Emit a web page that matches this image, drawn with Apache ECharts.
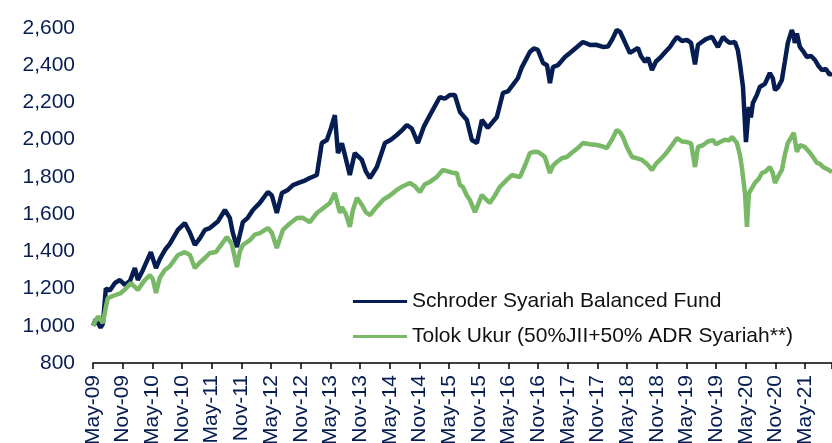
<!DOCTYPE html>
<html>
<head>
<meta charset="utf-8">
<script src="https://cdn.jsdelivr.net/npm/echarts@6/dist/echarts.min.js"></script>
<style>html,body{margin:0;padding:0;background:#fff}#c{width:832px;height:443px}</style>
</head>
<body>
<div id="c"></div>
<script>
var seriesNames = ['Schroder Syariah Balanced Fund', 'Tolok Ukur (50%JII+50% ADR Syariah**)'];
var tickLabels = ['May-09','Nov-09','May-10','Nov-10','May-11','Nov-11','May-12','Nov-12','May-13','Nov-13','May-14','Nov-14','May-15','Nov-15','May-16','Nov-16','May-17','Nov-17','May-18','Nov-18','May-19','Nov-19','May-20','Nov-20','May-21'];
var yTicks = [800, 1000, 1200, 1400, 1600, 1800, 2000, 2200, 2400, 2600];

var fundDates = ['2009-05-01','2009-05-19','2009-06-01','2009-06-17','2009-07-01','2009-07-19','2009-08-13','2009-09-14','2009-10-14','2009-11-14','2009-12-15','2010-01-15','2010-02-03','2010-03-04','2010-04-22','2010-05-23','2010-06-17','2010-07-17','2010-08-17','2010-10-06','2010-11-18','2010-12-19','2011-01-19','2011-02-19','2011-03-20','2011-04-20','2011-06-08','2011-07-21','2011-08-21','2011-09-09','2011-10-04','2011-11-10','2011-12-10','2012-01-11','2012-02-23','2012-04-12','2012-05-06','2012-06-06','2012-07-07','2012-08-13','2012-09-14','2012-10-26','2012-11-26','2012-12-26','2013-02-09','2013-03-09','2013-04-10','2013-05-04','2013-05-28','2013-06-17','2013-07-11','2013-07-29','2013-08-29','2013-09-29','2013-11-12','2013-12-06','2014-01-01','2014-02-13','2014-04-02','2014-05-08','2014-06-14','2014-07-15','2014-08-15','2014-09-15','2014-10-22','2014-11-28','2015-01-05','2015-02-05','2015-03-05','2015-04-05','2015-05-06','2015-06-06','2015-07-07','2015-08-19','2015-09-19','2015-10-20','2015-11-20','2015-12-26','2016-01-21','2016-02-21','2016-03-28','2016-04-28','2016-05-28','2016-06-28','2016-07-23','2016-08-17','2016-09-11','2016-10-05','2016-10-30','2016-12-01','2016-12-25','2017-01-13','2017-02-01','2017-03-01','2017-04-14','2017-05-14','2017-06-27','2017-08-03','2017-09-16','2017-10-22','2017-12-04','2018-01-05','2018-01-29','2018-02-28','2018-03-18','2018-04-06','2018-04-30','2018-05-18','2018-06-13','2018-07-07','2018-07-25','2018-08-20','2018-09-08','2018-10-02','2018-10-26','2018-11-20','2018-12-21','2019-01-21','2019-02-15','2019-03-04','2019-04-04','2019-05-04','2019-05-29','2019-06-23','2019-07-11','2019-07-23','2019-08-29','2019-10-06','2019-11-12','2019-12-13','2020-01-07','2020-01-25','2020-02-25','2020-03-13','2020-03-25','2020-04-14','2020-05-02','2020-05-20','2020-06-02','2020-06-14','2020-07-08','2020-07-26','2020-08-27','2020-09-27','2020-10-15','2020-10-28','2020-11-16','2020-12-10','2020-12-28','2021-01-16','2021-02-10','2021-02-22','2021-02-28','2021-03-11','2021-03-29','2021-04-23','2021-05-12','2021-06-06','2021-07-01','2021-07-19','2021-08-13','2021-09-07','2021-10-01','2021-10-14'];
var fundValues = [1000,1035,1040,990,1010,1200,1190,1230,1246,1220,1240,1310,1246,1300,1396,1310,1360,1407,1440,1515,1552,1500,1434,1470,1515,1525,1560,1622,1580,1500,1423,1557,1580,1622,1660,1719,1700,1606,1713,1730,1756,1770,1780,1794,1810,1982,1998,2060,2132,1928,1980,1918,1810,1928,1891,1830,1794,1853,1982,2000,2025,2050,2079,2060,1982,2070,2132,2180,2229,2220,2240,2240,2149,2106,1998,1982,2106,2063,2090,2122,2251,2260,2294,2330,2390,2430,2471,2490,2482,2412,2400,2304,2390,2400,2444,2466,2498,2525,2509,2510,2498,2500,2536,2589,2580,2546,2500,2466,2480,2493,2450,2418,2440,2374,2420,2439,2470,2498,2530,2552,2530,2536,2520,2405,2510,2520,2540,2552,2498,2552,2530,2520,2525,2480,2412,2283,1987,2176,2120,2197,2240,2283,2300,2358,2330,2267,2280,2321,2420,2520,2589,2560,2520,2570,2498,2470,2444,2450,2428,2400,2374,2380,2347,2360];

var benchDates = ['2009-05-01','2009-05-13','2009-06-01','2009-06-13','2009-07-01','2009-07-19','2009-08-01','2009-09-01','2009-10-20','2009-11-20','2009-12-21','2010-02-03','2010-03-10','2010-04-16','2010-05-04','2010-05-23','2010-06-17','2010-07-17','2010-08-17','2010-10-06','2010-11-18','2010-12-19','2011-01-19','2011-02-19','2011-03-20','2011-04-20','2011-05-26','2011-07-03','2011-08-03','2011-09-03','2011-10-04','2011-10-22','2011-11-10','2011-12-23','2012-01-23','2012-02-23','2012-04-12','2012-05-06','2012-06-06','2012-07-13','2012-08-25','2012-10-08','2012-11-14','2012-12-26','2013-02-09','2013-03-15','2013-04-28','2013-05-28','2013-06-29','2013-07-11','2013-08-05','2013-08-29','2013-09-17','2013-10-12','2013-11-12','2013-12-06','2014-01-01','2014-02-13','2014-03-20','2014-05-02','2014-06-14','2014-07-21','2014-09-03','2014-10-04','2014-11-04','2014-12-04','2015-01-05','2015-02-17','2015-03-23','2015-04-24','2015-05-24','2015-06-18','2015-07-07','2015-07-25','2015-08-19','2015-09-07','2015-10-08','2015-10-26','2015-11-20','2015-12-14','2016-01-08','2016-02-09','2016-03-09','2016-04-16','2016-05-22','2016-06-16','2016-07-11','2016-08-11','2016-09-11','2016-10-05','2016-10-30','2016-11-24','2016-12-12','2017-01-13','2017-02-01','2017-02-25','2017-03-25','2017-04-25','2017-05-26','2017-07-02','2017-08-03','2017-09-16','2017-10-28','2017-11-28','2017-12-28','2018-01-29','2018-02-28','2018-03-18','2018-04-06','2018-04-30','2018-06-01','2018-07-01','2018-08-01','2018-09-01','2018-10-02','2018-10-26','2018-11-20','2018-12-21','2019-01-21','2019-02-15','2019-03-04','2019-04-04','2019-05-04','2019-05-29','2019-06-23','2019-07-11','2019-08-11','2019-09-11','2019-10-12','2019-10-30','2019-11-24','2019-12-25','2020-01-19','2020-02-07','2020-03-07','2020-03-25','2020-04-07','2020-04-26','2020-05-08','2020-05-20','2020-05-26','2020-06-26','2020-07-20','2020-08-09','2020-09-03','2020-09-27','2020-10-15','2020-10-28','2020-11-16','2020-12-10','2020-12-28','2021-01-16','2021-02-05','2021-02-22','2021-03-11','2021-03-29','2021-04-29','2021-05-30','2021-06-24','2021-07-13','2021-08-01','2021-08-19','2021-09-19','2021-10-14'];
var benchValues = [1000,1004,1050,1058,1015,1100,1149,1160,1176,1200,1230,1192,1240,1273,1250,1176,1260,1300,1320,1380,1396,1380,1310,1340,1364,1391,1396,1440,1477,1440,1316,1400,1434,1460,1490,1498,1525,1500,1418,1515,1550,1579,1580,1557,1606,1630,1660,1713,1606,1638,1600,1531,1620,1687,1650,1610,1595,1640,1676,1700,1730,1750,1767,1750,1719,1760,1773,1800,1837,1830,1821,1821,1756,1746,1700,1676,1611,1650,1703,1680,1660,1700,1746,1780,1810,1805,1799,1860,1928,1935,1934,1920,1907,1821,1860,1880,1900,1907,1930,1955,1982,1975,1971,1965,1955,2000,2052,2040,2014,1960,1907,1900,1891,1870,1837,1870,1891,1920,1955,1985,2009,1990,1987,1980,1853,1961,1970,1990,1998,1975,1987,2000,1995,2014,1982,1920,1853,1713,1531,1713,1720,1767,1790,1821,1830,1853,1820,1767,1800,1837,1920,1982,2010,2036,1934,1970,1961,1930,1900,1875,1870,1853,1840,1826];

function monthOffset(s) {
  var p = s.split('-');
  return (+p[0] - 2009) * 12 + (+p[1] - 5) + (+p[2] - 1) / 30;
}
function pairs(dates, vals) {
  return dates.map(function (d, i) { return [monthOffset(d), vals[i]]; });
}

var navy = '#061d52';
var green = '#79b866';
var fontFam = '"Liberation Sans", Arial, sans-serif';

var chart = echarts.init(document.getElementById('c'), null, { renderer: 'canvas' });
chart.setOption({
  animation: false,
  backgroundColor: '#ffffff',
  grid: { left: 93, right: 0, top: 28, bottom: 80, containLabel: false, outerBoundsMode: 'none' },
  legend: {
    orient: 'vertical',
    left: 353,
    top: 291,
    padding: 0,
    itemWidth: 54,
    itemHeight: 3,
    itemGap: 14,
    icon: 'rect',
    textStyle: { color: '#111111', fontSize: 21, fontFamily: fontFam },
    data: seriesNames
  },
  xAxis: {
    type: 'value',
    min: 0,
    max: function (e) { return e.max; },
    interval: 6,
    axisLine: { show: true, lineStyle: { color: '#000000', width: 1.5 } },
    axisTick: { show: true, length: 6, lineStyle: { color: '#000000', width: 1.5 } },
    splitLine: { show: false },
    axisLabel: {
      rotate: 90,
      margin: 12,
      color: navy,
      fontSize: 21,
      fontFamily: fontFam,
      formatter: function (v) {
        var k = v / 6;
        if (Math.abs(k - Math.round(k)) > 1e-6) return '';
        return tickLabels[Math.round(k)] || '';
      }
    }
  },
  yAxis: {
    type: 'value',
    min: yTicks[0],
    max: yTicks[yTicks.length - 1],
    interval: 200,
    axisLine: { show: false },
    axisTick: { show: false },
    splitLine: { show: false },
    axisLabel: {
      margin: 18,
      color: navy,
      fontSize: 21,
      fontFamily: fontFam,
      formatter: function (v) { return v.toLocaleString('en-US'); }
    }
  },
  series: [
    {
      name: seriesNames[0],
      type: 'line',
      data: pairs(fundDates, fundValues),
      showSymbol: false,
      color: navy,
      lineStyle: { color: navy, width: 4.5 },
      z: 2
    },
    {
      name: seriesNames[1],
      type: 'line',
      data: pairs(benchDates, benchValues),
      showSymbol: false,
      color: green,
      lineStyle: { color: green, width: 4.5 },
      z: 3
    }
  ]
});
</script>
</body>
</html>
